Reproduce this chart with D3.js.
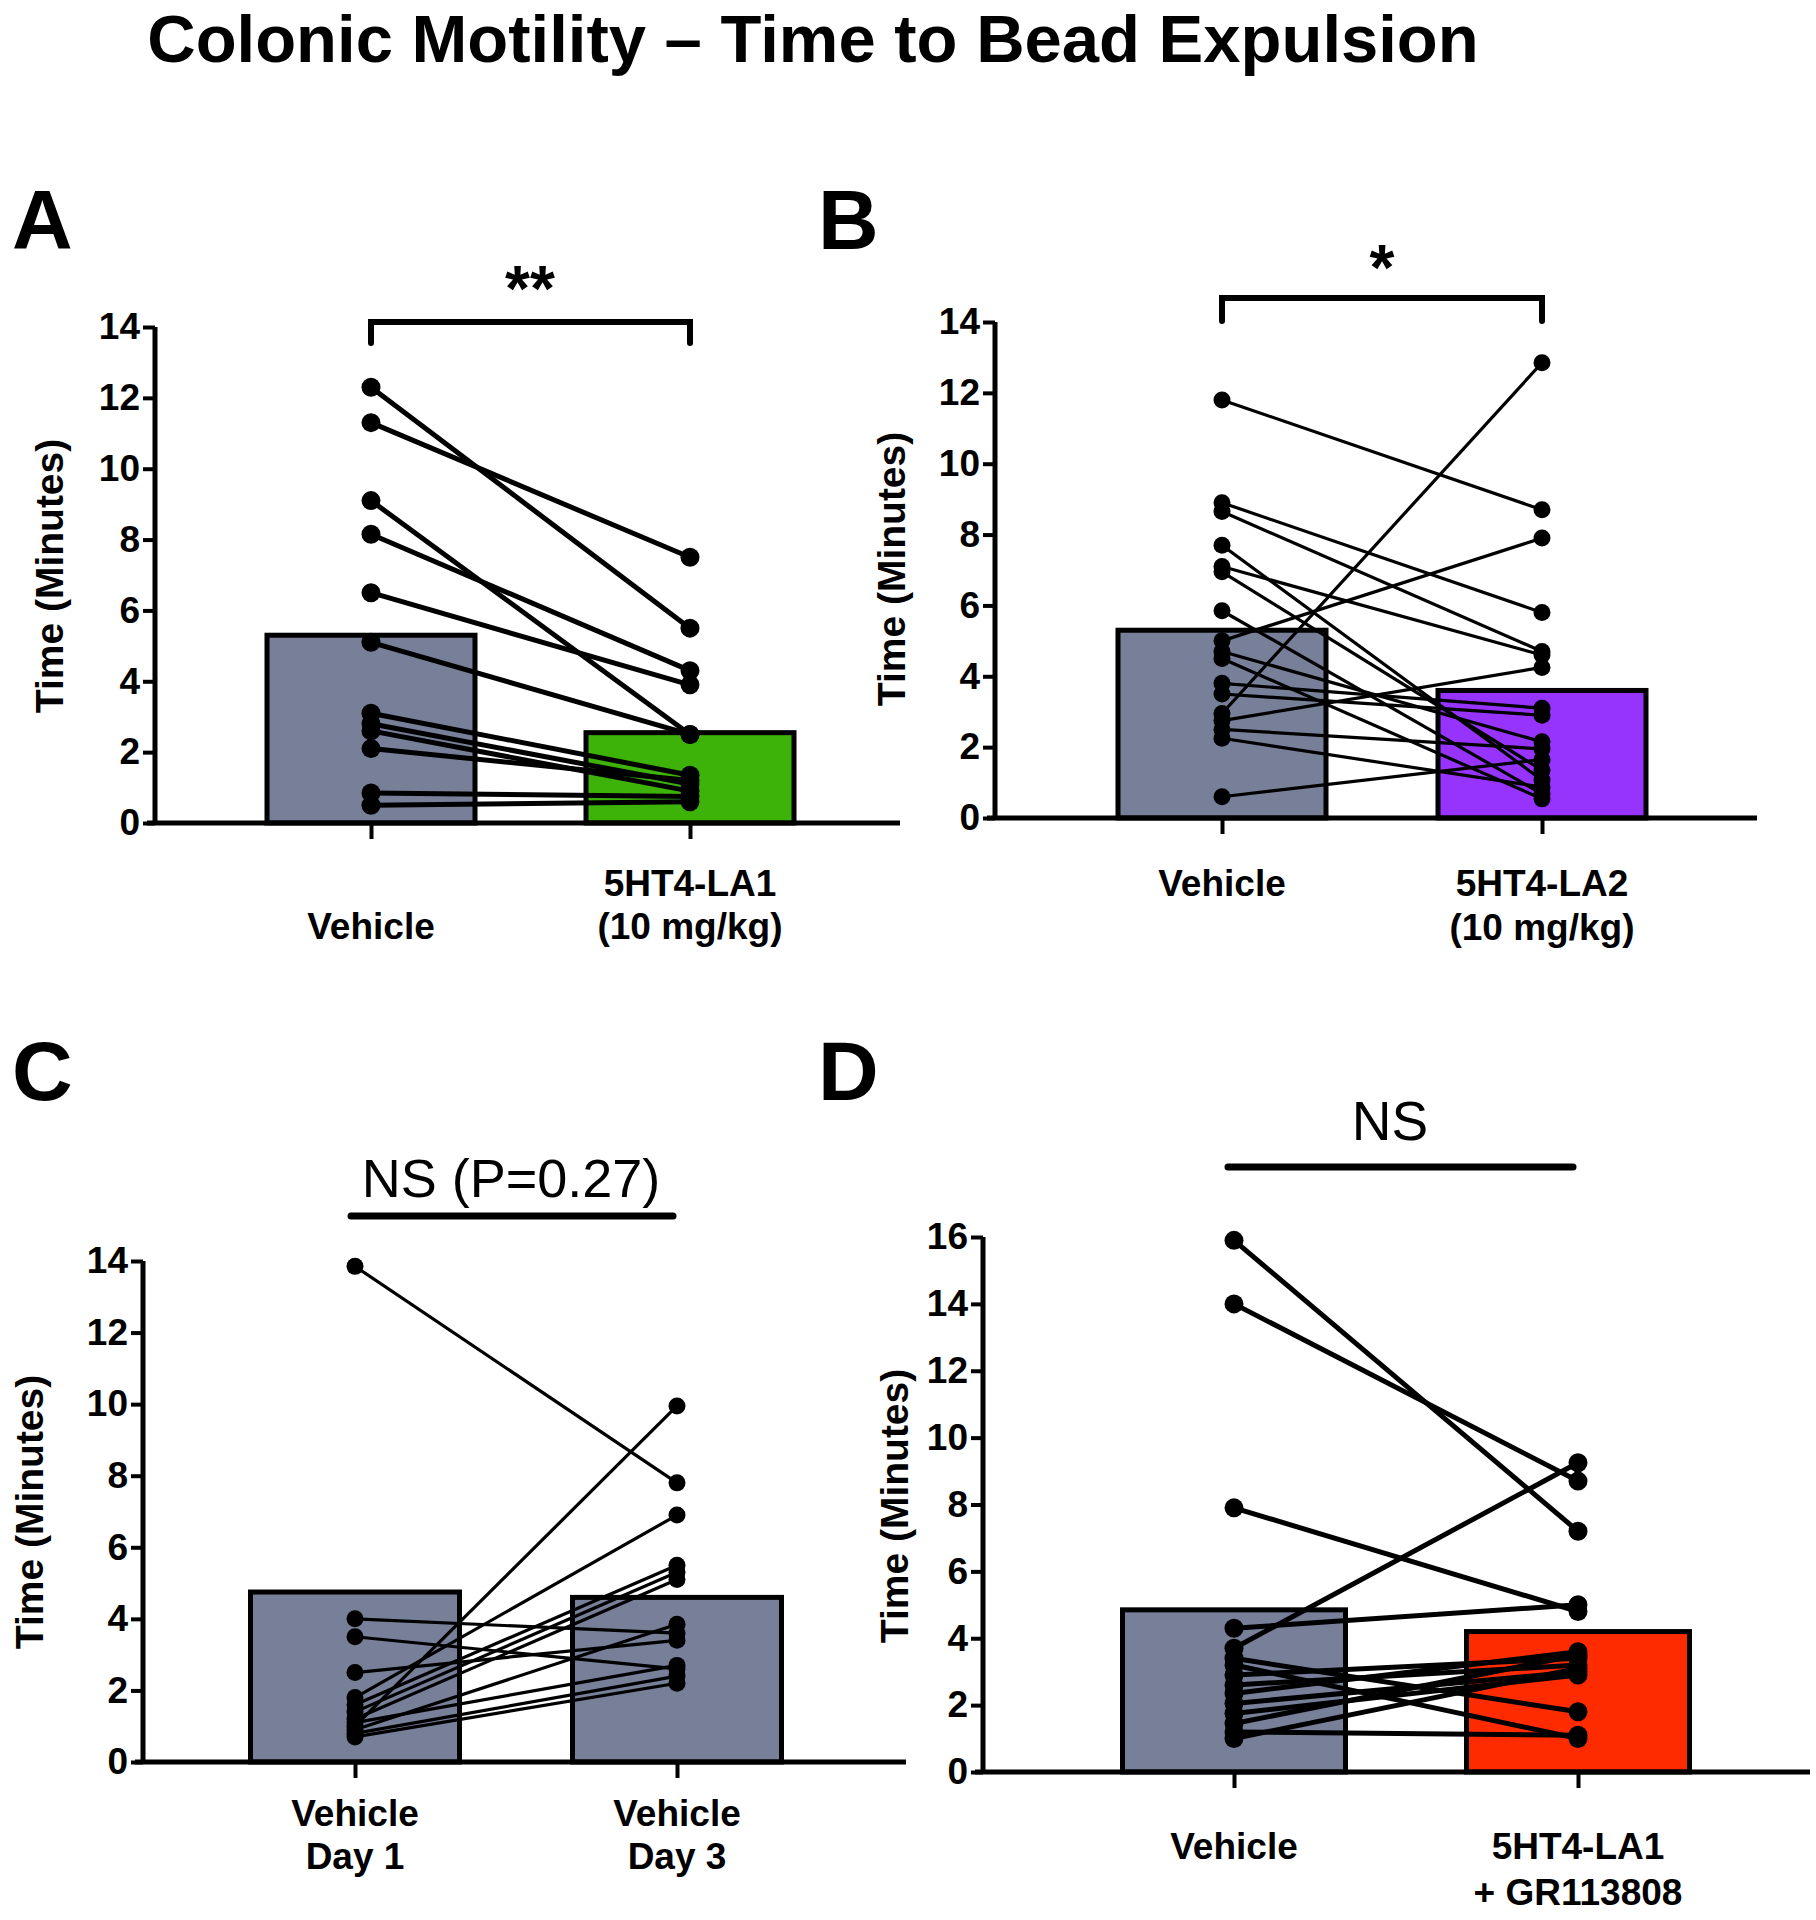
<!DOCTYPE html>
<html><head><meta charset="utf-8">
<script src="https://cdn.jsdelivr.net/npm/d3@7"></script>
<style>
body{margin:0;background:#fff}
text{font-family:"Liberation Sans",Arial,Helvetica,sans-serif}
</style>
</head><body>
<svg id="chart" width="1816" height="1920"></svg>
<script>
// ---------------- DATA ----------------
const titleText = "Colonic Motility \u2013 Time to Bead Expulsion";
const yAxisTitle = "Time (Minutes)";

// Panel A
const labelsA = [["Vehicle"], ["5HT4-LA1", "(10 mg/kg)"]];
const vehicleA = [12.3, 11.3, 9.1, 8.15, 6.5, 5.1, 3.1, 2.8, 2.6, 2.1, 0.85, 0.5];
const treatedA = [5.5, 7.5, 2.5, 4.3, 3.9, 2.5, 1.35, 1.1, 0.9, 1.2, 0.75, 0.6];
const meansA = [5.3, 2.55];
const ticksA = [0, 2, 4, 6, 8, 10, 12, 14];
const sigA = "**";

// Panel B
const labelsB = [["Vehicle"], ["5HT4-LA2", "(10 mg/kg)"]];
const vehicleB = [11.8, 8.9, 8.65, 7.7, 7.1, 6.95, 5.85, 5.0, 4.7, 4.5, 3.8, 3.5, 2.95, 2.75, 2.5, 2.25, 0.6];
const treatedB = [8.7, 5.8, 4.7, 1.07, 4.6, 1.35, 0.68, 7.9, 2.15, 0.54, 3.1, 2.9, 12.85, 4.25, 1.95, 0.87, 1.65];
const meansB = [5.3, 3.6];
const ticksB = [0, 2, 4, 6, 8, 10, 12, 14];
const sigB = "*";

// Panel C
const labelsC = [["Vehicle", "Day 1"], ["Vehicle", "Day 3"]];
const day1C = [13.85, 4.0, 3.5, 2.5, 1.8, 1.6, 1.4, 1.2, 1.1, 1.0, 0.9, 0.8, 0.7];
const day3C = [7.8, 3.6, 2.6, 3.4, 6.9, 5.5, 5.3, 5.1, 2.7, 9.95, 3.85, 2.4, 2.2];
const meansC = [4.75, 4.6];
const ticksC = [0, 2, 4, 6, 8, 10, 12, 14];
const sigC = "NS (P=0.27)";

// Panel D
const labelsD = [["Vehicle"], ["5HT4-LA1", "+ GR113808"]];
const vehicleD = [15.9, 14.0, 7.9, 4.3, 3.7, 3.4, 3.2, 2.9, 2.6, 2.35, 2.05, 1.75, 1.45, 1.2, 1.0];
const treatedD = [7.2, 8.7, 4.8, 5.0, 9.25, 1.8, 1.0, 3.4, 3.2, 3.6, 3.0, 2.9, 3.5, 1.1, 3.1];
const meansD = [4.85, 4.2];
const ticksD = [0, 2, 4, 6, 8, 10, 12, 14, 16];
const sigD = "NS";

const panelLetters = ["A", "B", "C", "D"];

// ---------------- LAYOUT / STYLE ----------------
const greyFill = "#777f99";
const panels = [
  {letter: panelLetters[0], a: vehicleA, b: treatedA, means: meansA, ticks: ticksA, labels: labelsA, sig: sigA,
   fills: [greyFill, "#3db30a"], x0: 155, xEnd: 900, yBottom: 823, yTop: 327, cats: [371, 690], barW: 208,
   lx: 12, ly: 249, ylx: 49, yly: 576, sigType: "bracket", sigY: 322, sigDrop: 21, sigTextX: 530, sigTextY: 311, sigFont: 64, sigBold: true,
   labelY: [896, 939], vehLine: 1, lw: 5, r: 9.5},
  {letter: panelLetters[1], a: vehicleB, b: treatedB, means: meansB, ticks: ticksB, labels: labelsB, sig: sigB,
   fills: [greyFill, "#9633fd"], x0: 995, xEnd: 1757, yBottom: 818, yTop: 322, cats: [1222, 1542], barW: 208,
   lx: 818, ly: 249, ylx: 891, yly: 569, sigType: "bracket", sigY: 298, sigDrop: 23, sigTextX: 1382, sigTextY: 290, sigFont: 64, sigBold: true,
   labelY: [896, 940], vehLine: 0, lw: 3.2, r: 8.5},
  {letter: panelLetters[2], a: day1C, b: day3C, means: meansC, ticks: ticksC, labels: labelsC, sig: sigC,
   fills: [greyFill, greyFill], x0: 143, xEnd: 906, yBottom: 1762, yTop: 1261, cats: [355, 677], barW: 209,
   lx: 12, ly: 1100, ylx: 29, yly: 1512, sigType: "line", sigY: 1216, sigX: [351, 673], sigTextX: 511, sigTextY: 1197, sigFont: 54, sigBold: false,
   labelY: [1826, 1869], vehLine: 0, lw: 3.2, r: 8.5},
  {letter: panelLetters[3], a: vehicleD, b: treatedD, means: meansD, ticks: ticksD, labels: labelsD, sig: sigD,
   fills: [greyFill, "#ff2b00"], x0: 983, xEnd: 1810, yBottom: 1772, yTop: 1237, cats: [1234, 1578], barW: 223,
   lx: 818, ly: 1100, ylx: 894, yly: 1506, sigType: "line", sigY: 1167, sigX: [1228, 1573], sigTextX: 1390, sigTextY: 1140, sigFont: 55, sigBold: false,
   labelY: [1859, 1905], vehLine: 0, lw: 5, r: 9.5}
];

const svg = d3.select("#chart");

svg.append("text")
  .attr("x", 813).attr("y", 62)
  .attr("text-anchor", "middle")
  .attr("font-size", 67).attr("font-weight", "bold")
  .text(titleText);

panels.forEach(p => {
  const g = svg.append("g");
  const yMax = p.ticks[p.ticks.length - 1];
  const y = d3.scaleLinear().domain([0, yMax]).range([p.yBottom, p.yTop]);
  const x = d3.scalePoint().domain([0, 1]).range(p.cats);

  // panel letter
  g.append("text").attr("x", p.lx).attr("y", p.ly)
    .attr("font-size", 84).attr("font-weight", "bold").text(p.letter);

  // bars
  g.selectAll("rect.bar").data(p.means).join("rect")
    .attr("class", "bar")
    .attr("x", (d, i) => x(i) - p.barW / 2)
    .attr("width", p.barW)
    .attr("y", d => y(d))
    .attr("height", d => y(0) - y(d))
    .attr("fill", (d, i) => p.fills[i])
    .attr("stroke", "#000").attr("stroke-width", 5);

  // paired lines
  const pairs = p.a.map((v, i) => [v, p.b[i]]);
  g.selectAll("line.pair").data(pairs).join("line")
    .attr("x1", x(0)).attr("x2", x(1))
    .attr("y1", d => y(d[0])).attr("y2", d => y(d[1]))
    .attr("stroke", "#000").attr("stroke-width", p.lw);

  // points
  [p.a, p.b].forEach((arr, gi) => {
    g.selectAll(null).data(arr).join("circle")
      .attr("cx", x(gi)).attr("cy", d => y(d)).attr("r", p.r).attr("fill", "#000");
  });

  // y axis
  const yAxis = d3.axisLeft(y).tickValues(p.ticks).tickSize(12).tickPadding(3).tickFormat(d3.format("d"));
  const ya = g.append("g").attr("transform", `translate(${p.x0},0)`).call(yAxis);
  ya.select(".domain").attr("stroke-width", 5).attr("d", `M0,${p.yTop}V${p.yBottom}`);
  ya.selectAll(".tick line").attr("stroke-width", 4);
  ya.selectAll(".tick text").attr("font-size", 37).attr("font-weight", "bold")
    .attr("font-family", "'Liberation Sans',Arial,sans-serif").attr("fill", "#000");

  // x axis
  const xAxis = d3.axisBottom(x).tickSize(16).tickFormat("");
  const xa = g.append("g").attr("transform", `translate(0,${p.yBottom})`).call(xAxis);
  xa.select(".domain").attr("stroke-width", 5).attr("d", `M${p.x0 - 8},0H${p.xEnd}`);
  xa.selectAll(".tick line").attr("stroke-width", 4);

  // category labels
  p.labels.forEach((lines, i) => {
    lines.forEach((t, j) => {
      const row = (i === 0 && lines.length === 1) ? p.vehLine : j;
      g.append("text").attr("x", x(i)).attr("y", p.labelY[row])
        .attr("text-anchor", "middle").attr("font-size", 37).attr("font-weight", "bold")
        .text(t);
    });
  });

  // y axis title
  g.append("text")
    .attr("transform", `translate(${p.ylx},${p.yly}) rotate(-90)`)
    .attr("text-anchor", "middle").attr("dy", "0.36em")
    .attr("font-size", 39).attr("font-weight", "bold")
    .text(yAxisTitle);

  // significance annotation
  if (p.sigType === "bracket") {
    g.append("path")
      .attr("d", `M${x(0)},${p.sigY + p.sigDrop}V${p.sigY}H${x(1)}V${p.sigY + p.sigDrop}`)
      .attr("fill", "none").attr("stroke", "#000").attr("stroke-width", 6).attr("stroke-linecap", "round");
  } else {
    g.append("line").attr("x1", p.sigX[0]).attr("x2", p.sigX[1])
      .attr("y1", p.sigY).attr("y2", p.sigY)
      .attr("stroke", "#000").attr("stroke-width", 7).attr("stroke-linecap", "round");
  }
  g.append("text").attr("x", p.sigTextX).attr("y", p.sigTextY)
    .attr("text-anchor", "middle").attr("font-size", p.sigFont).attr("font-weight", p.sigBold ? "bold" : "normal")
    .text(p.sig);
});
</script>
</body></html>
